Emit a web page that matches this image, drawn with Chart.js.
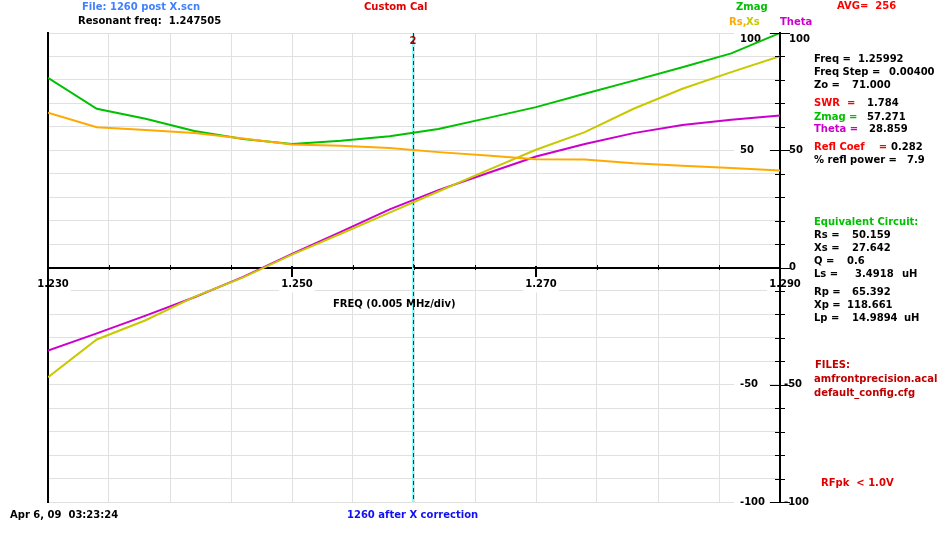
<!DOCTYPE html>
<html>
<head>
<meta charset="utf-8">
<script src="https://cdn.jsdelivr.net/npm/chart.js@4.4.0/dist/chart.umd.min.js"></script>
<style>
  body { margin: 0; background: #fff; }
  #wrap { position: relative; width: 950px; height: 550px; }
  .t { position: absolute; font: bold 10px 'DejaVu Sans', sans-serif; line-height: 12px; white-space: pre; }
</style>
</head>
<body>
<div id="wrap"><canvas id="grafico" width="950" height="550"></canvas></div>
<script>
// frequencias da varredura (MHz)
const freqs = [1.230, 1.234, 1.238, 1.242, 1.246, 1.250, 1.254, 1.258,
               1.262, 1.266, 1.270, 1.274, 1.278, 1.282, 1.286, 1.290];
const zmag  = [80.9, 67.7, 63.4, 58.2, 54.8, 52.7, 54.0, 56.0,
               59.1, 63.7, 68.4, 74.1, 79.7, 85.4, 91.3, 100.0];
const rs    = [66.0, 59.8, 58.6, 57.4, 55.0, 52.5, 51.9, 51.0,
               49.2, 47.8, 46.2, 46.1, 44.5, 43.4, 42.4, 41.4];
const xs    = [-46.8, -30.7, -22.5, -12.5, -4.2, 5.5, 14.4, 23.4,
               32.4, 41.4, 50.2, 57.7, 67.7, 76.2, 83.3, 90.1];
const theta = [-35.4, -28.1, -20.5, -12.7, -4.0, 5.8, 15.2, 24.8,
               33.0, 40.2, 47.3, 52.7, 57.3, 60.8, 63.0, 64.8];

const xLabels = ['1.230', '1.250', '1.270', '1.290'];
const yLabelsRight = [100, 50, 0, -50, -100];
const yLabelsLeft = [100, 50, -50, -100];
const markerFreq = 1.25992;

// textos do painel (x, centro y, cor, texto)
const textos = [
  [82, 7, '#4080ff', 'File: 1260 post X.scn'],
  [78, 21, '#000000', 'Resonant freq:  1.247505'],
  [364, 7, '#e00000', 'Custom Cal'],
  [736, 6.5, '#00c000', 'Zmag'],
  [837, 5.5, '#ff0000', 'AVG=  256'],
  [729, 22, '#ffaa00', 'Rs,'],
  [746, 22, '#c8c800', 'Xs'],
  [780, 22, '#cc00cc', 'Theta'],
  [814, 58.7, '#000000', 'Freq ='], [858, 58.7, '#000000', '1.25992'],
  [814, 72, '#000000', 'Freq Step ='], [889, 72, '#000000', '0.00400'],
  [814, 85, '#000000', 'Zo ='], [852, 85, '#000000', '71.000'],
  [814, 102.5, '#ff0000', 'SWR  ='], [867, 102.5, '#000000', '1.784'],
  [814, 116.5, '#00c000', 'Zmag ='], [867, 116.5, '#000000', '57.271'],
  [814, 129, '#cc00cc', 'Theta ='], [869, 129, '#000000', '28.859'],
  [814, 147, '#ff0000', 'Refl Coef    ='], [891, 147, '#000000', '0.282'],
  [814, 159.5, '#000000', '% refl power ='], [907, 159.5, '#000000', '7.9'],
  [814, 222, '#00c000', 'Equivalent Circuit:'],
  [814, 235, '#000000', 'Rs ='], [852, 235, '#000000', '50.159'],
  [814, 248, '#000000', 'Xs ='], [852, 248, '#000000', '27.642'],
  [814, 261, '#000000', 'Q ='], [847, 261, '#000000', '0.6'],
  [814, 274, '#000000', 'Ls ='], [855, 274, '#000000', '3.4918'], [902, 274, '#000000', 'uH'],
  [814, 291.5, '#000000', 'Rp ='], [852, 291.5, '#000000', '65.392'],
  [814, 305, '#000000', 'Xp ='], [847, 305, '#000000', '118.661'],
  [814, 318, '#000000', 'Lp ='], [852, 318, '#000000', '14.9894'], [904, 318, '#000000', 'uH'],
  [815, 365, '#c00000', 'FILES:'],
  [814, 379, '#c00000', 'amfrontprecision.acal'],
  [814, 393, '#c00000', 'default_config.cfg'],
  [821, 483, '#e00000', 'RFpk  < 1.0V'],
  [333, 304, '#000000', 'FREQ (0.005 MHz/div)'],
  [10, 515, '#000000', 'Apr 6, 09  03:23:24'],
  [347, 515, '#1010f0', '1260 after X correction']
];

const wrap = document.getElementById('wrap');
textos.forEach(function (t) {
  let d = document.createElement('div');
  d.className = 't';
  d.style.left = t[0] + 'px';
  d.style.top = (t[1] - 6) + 'px';
  d.style.color = t[2];
  d.textContent = t[3];
  wrap.appendChild(d);
});

function pontos(valores) {
  return valores.map(function (v, i) { return { x: freqs[i], y: v }; });
}

function ehRotulo(valor) {
  return xLabels.indexOf(valor.toFixed(3)) >= 0;
}

function linha(ctx, x1, y1, x2, y2) {
  ctx.beginPath();
  ctx.moveTo(x1, y1);
  ctx.lineTo(x2, y2);
  ctx.stroke();
}

const fonte = 'bold 10px "DejaVu Sans"';

const enfeites = {
  id: 'enfeites',
  beforeDatasetsDraw(chart) {
    const ctx = chart.ctx, area = chart.chartArea;
    const sx = chart.scales.x, sy = chart.scales.y;
    ctx.save();
    // marcador
    const mx = Math.round(sx.getPixelForValue(markerFreq));
    ctx.strokeStyle = '#80ffff';
    ctx.lineWidth = 2;
    linha(ctx, mx, area.top, mx, area.bottom);
    ctx.strokeStyle = '#a00000';
    ctx.lineWidth = 1;
    ctx.setLineDash([4, 3]);
    linha(ctx, mx + 0.5, area.top, mx + 0.5, area.bottom);
    ctx.setLineDash([]);
    ctx.font = fonte;
    ctx.textBaseline = 'middle';
    ctx.textAlign = 'center';
    ctx.fillStyle = '#a00000';
    ctx.fillText('2', mx, area.top + 8);
    // rotulos internos do eixo direito
    ctx.textAlign = 'left';
    yLabelsLeft.forEach(function (v) {
      let py = sy.getPixelForValue(v);
      if (v === 100) py += 6;
      ctx.fillStyle = '#ffffff';
      ctx.fillRect(area.right - 46, py - 6, 35, 12);
      ctx.fillStyle = '#000000';
      ctx.fillText(String(v), area.right - 40, py);
    });
    ctx.restore();
  },
  afterDraw(chart) {
    const ctx = chart.ctx, area = chart.chartArea;
    const sx = chart.scales.x, sy = chart.scales.y;
    ctx.save();
    ctx.strokeStyle = '#000000';
    // marcas do eixo direito
    sy.ticks.forEach(function (t) {
      const py = Math.round(sy.getPixelForValue(t.value)) + 0.5;
      const len = (Math.round(t.value) % 50 === 0) ? 10 : 5;
      ctx.lineWidth = 1;
      linha(ctx, area.right - len, py, area.right + len, py);
    });
    ctx.font = fonte;
    ctx.textBaseline = 'middle';
    ctx.textAlign = 'left';
    ctx.fillStyle = '#000000';
    yLabelsRight.forEach(function (v) {
      let py = sy.getPixelForValue(v);
      if (v === 100) py += 6;
      ctx.fillText(String(v), area.right + (v < 0 ? 4 : 9), py);
    });
    // marcas do eixo de frequencia
    const y0 = Math.round(sy.getPixelForValue(0));
    sx.ticks.forEach(function (t) {
      const px = Math.round(sx.getPixelForValue(t.value));
      if (ehRotulo(t.value)) {
        ctx.lineWidth = 2;
        linha(ctx, px, y0 - 2, px, y0 + 9);
      } else {
        ctx.lineWidth = 1;
        linha(ctx, px + 0.5, y0 - 3, px + 0.5, y0 + 2);
      }
    });
    ctx.restore();
  }
};

Chart.defaults.font.family = 'DejaVu Sans';

const ctx = document.getElementById('grafico').getContext('2d');

const grafico = new Chart(ctx, {
  type: 'line',
  data: {
    datasets: [
      { label: 'Rs', data: pontos(rs), borderColor: '#ffaa00', yAxisID: 'y' },
      { label: 'Xs', data: pontos(xs), borderColor: '#c8c800', yAxisID: 'y' },
      { label: 'Theta', data: pontos(theta), borderColor: '#cc00cc', yAxisID: 'y' },
      { label: 'Zmag', data: pontos(zmag), borderColor: '#00c000', yAxisID: 'y' }
    ]
  },
  options: {
    responsive: false,
    animation: false,
    devicePixelRatio: 1,
    layout: { padding: { left: 48, top: 33, right: 170, bottom: 48 } },
    elements: {
      line: { borderWidth: 2, tension: 0, fill: false },
      point: { radius: 0 }
    },
    plugins: { legend: { display: false }, tooltip: { enabled: false } },
    scales: {
      x: {
        type: 'linear',
        position: { y: 0 },
        min: 1.23,
        max: 1.29,
        grid: { color: '#e0e0e0', drawTicks: false },
        border: { color: '#000000', width: 2 },
        ticks: {
          stepSize: 0.005,
          autoSkip: false,
          maxRotation: 0,
          padding: 11,
          labelOffset: 5,
          color: '#000000',
          font: { size: 10, weight: 'bold' },
          showLabelBackdrop: function (c) { return ehRotulo(c.tick.value); },
          backdropColor: '#ffffff',
          backdropPadding: 2,
          callback: function (v) { return ehRotulo(v) ? v.toFixed(3) : ''; }
        }
      },
      y: {
        position: 'right',
        min: -100,
        max: 100,
        grid: { color: '#e0e0e0', drawTicks: false },
        border: { color: '#000000', width: 2 },
        ticks: { stepSize: 10, display: false }
      },
      yL: {
        position: 'left',
        min: -100,
        max: 100,
        grid: { display: false, drawTicks: false },
        border: { color: '#000000', width: 2 },
        ticks: { display: false }
      }
    }
  },
  plugins: [enfeites]
});
</script>
</body>
</html>
